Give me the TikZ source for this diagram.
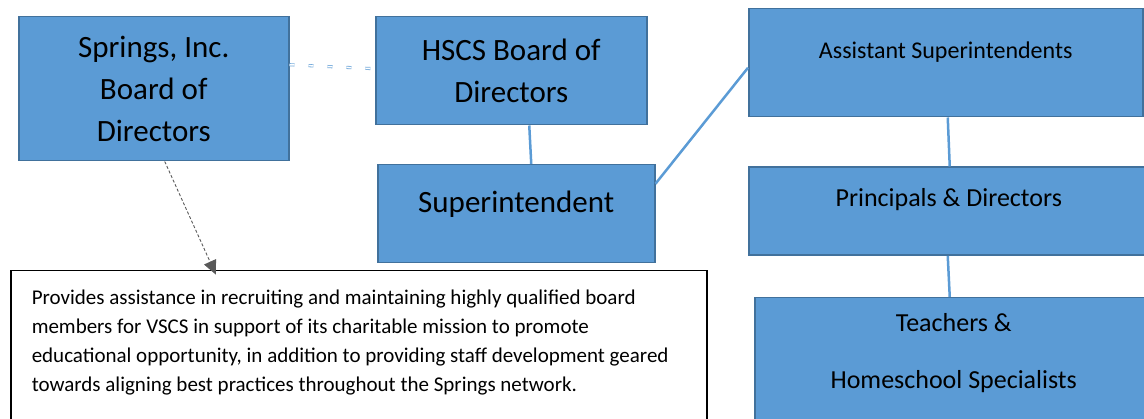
\documentclass[tikz,border=0pt]{standalone}
\usepackage{fontspec}
\setmainfont{Carlito}
\usetikzlibrary{arrows.meta, positioning}
\definecolor{orgfill}{HTML}{5B9BD5}
\definecolor{orgline}{HTML}{41719C}
\definecolor{notegray}{HTML}{595959}

\begin{document}
\begin{tikzpicture}[x=1pt, y=-1pt,
      box/.style={draw=orgline, fill=orgfill, line width=1.5pt, align=center, anchor=north west, inner sep=0pt},
      link/.style={draw=orgfill, line width=2.5pt},
      big/.style={font=\fontsize{31}{42}\selectfont},
      mid/.style={font=\fontsize{26}{57}\selectfont},
      >=Stealth
    ]
    \useasboundingbox (0,0) rectangle (1144,419);
    \clip (0,0) rectangle (1144,419);

    \node[box, big, minimum width=270pt, minimum height=144pt] (springs) at (18,16) {Springs, Inc.\\Board of\\Directors};
    \node[box, big, minimum width=271pt, minimum height=108pt] (hscs) at (375,16) {HSCS Board of\\Directors};
    \node[box, big, minimum width=277pt, text height=48pt, text depth=50pt] (super) at (377,164) {Superintendent};

    \node[box, font=\fontsize{24}{29}\selectfont, minimum width=394pt, text height=50pt, text depth=58pt] (asst) at (748,8) {Assistant Superintendents};
    \node[box, mid, minimum width=400pt, text height=39pt, text depth=49pt, below=49pt of asst.south west, anchor=north west] (prin) {Principals \& Directors};
    \node[box, mid, minimum width=398pt, minimum height=124pt, text depth=18pt, below=41pt of prin.south west, anchor=north west, xshift=6pt] (teach) {Teachers \&\\Homeschool Specialists};

    \node[draw, line width=1.5pt, anchor=north west, text width=654pt, inner xsep=21pt, inner ysep=0pt,
          text height=34pt, text depth=140pt, align=flush left, font=\fontsize{21}{29}\selectfont] (note) at (10,270)
      {Provides assistance in recruiting and maintaining highly qualified board\\
       members for VSCS in support of its charitable mission to promote\\
       educational opportunity, in addition to providing staff development geared\\
       towards aligning best practices throughout the Springs network.};

    % dotted tie between the two boards
    \draw[draw=orgfill!85, line width=0.8pt, double=white, double distance=1.5pt, dash pattern=on 5pt off 14pt]
      ([yshift=24pt]springs.east) -- ([yshift=2pt]hscs.west);

    \draw[link] ([xshift=18pt]hscs.south) -- ([xshift=15pt]super.north);
    \draw[link] ([yshift=30pt]super.east) -- ([yshift=-5pt]asst.west);
    \draw[link] ([xshift=2pt]asst.south) -- ([xshift=1pt]prin.north);
    \draw[link] ([xshift=-1pt]prin.south) -- ([xshift=-4pt]teach.north);

    \draw[->, notegray, line width=0.9pt, dash pattern=on 3pt off 2pt, >={Triangle[length=14pt,width=13pt]}, shorten >=-5pt]
      ([xshift=11pt]springs.south) -- ([xshift=-145pt]note.north);
  \end{tikzpicture}
\end{document}
